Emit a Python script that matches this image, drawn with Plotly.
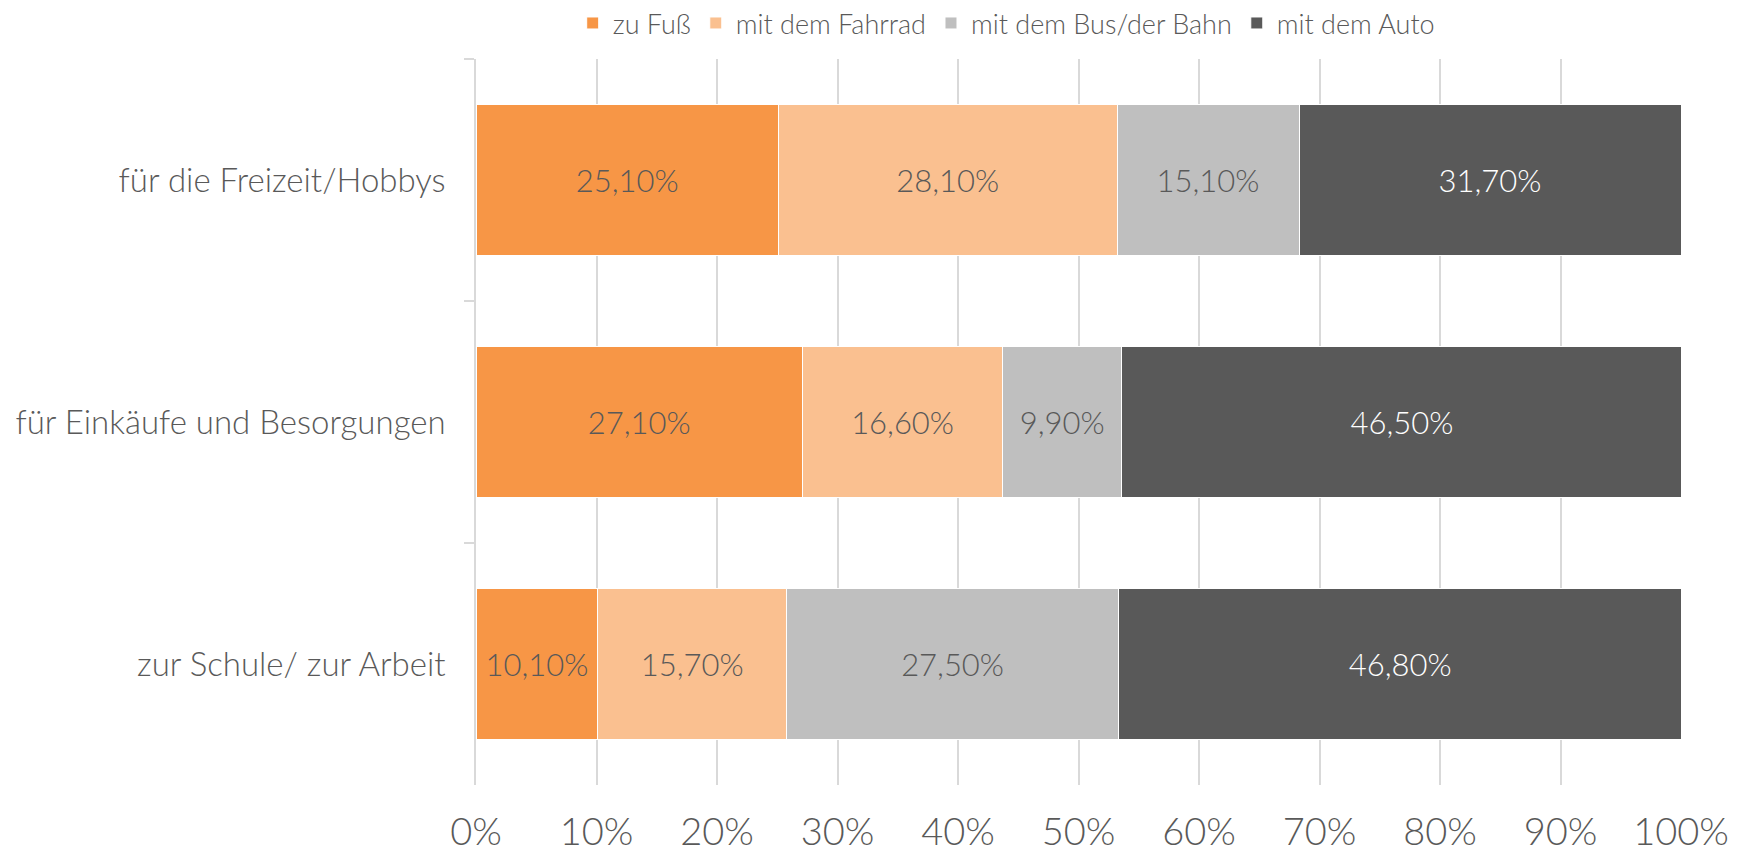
import plotly.graph_objects as go

categories = ["für die Freizeit/Hobbys", "für Einkäufe und Besorgungen", "zur Schule/ zur Arbeit"]
series_names = ["zu Fuß", "mit dem Fahrrad", "mit dem Bus/der Bahn", "mit dem Auto"]
zu_fuss = [25.1, 27.1, 10.1]
fahrrad = [28.1, 16.6, 15.7]
bus_bahn = [15.1, 9.9, 27.5]
auto = [31.7, 46.5, 46.8]
x_ticks = [0, 10, 20, 30, 40, 50, 60, 70, 80, 90, 100]
x_tick_labels = [f"{v}%" for v in x_ticks]

colors = ["#F79646", "#FAC090", "#BFBFBF", "#595959"]
label_colors = ["#595959", "#595959", "#595959", "#FFFFFF"]
FONT = "Lato"
W = 300

fig = go.Figure()
for name, vals, c, lc in zip(series_names, [zu_fuss, fahrrad, bus_bahn, auto], colors, label_colors):
    fig.add_trace(go.Bar(
        y=categories, x=vals, name=name, orientation="h",
        marker=dict(color=c, line=dict(color="white", width=1)),
        text=[f"{v:.2f}%".replace(".", ",") for v in vals],
        textposition="inside", insidetextanchor="middle",
        textfont=dict(family=FONT, size=31, color=lc, weight=W),
        constraintext="none",
    ))

# page body has an 8px margin: shrink the figure so it fits the 1739x853 window
fig.update_layout(
    barmode="stack",
    bargap=0.376,
    width=1731, height=845,
    margin=dict(l=468, r=58, t=51, b=68, autoexpand=False),
    plot_bgcolor="white", paper_bgcolor="white",
    font=dict(family=FONT, color="#595959", weight=W),
    legend=dict(
        orientation="h", x=0.44, xanchor="center", y=1.049, yanchor="middle",
        font=dict(family=FONT, size=27, color="#595959", weight=W),
        traceorder="normal", itemwidth=30,
    ),
    xaxis=dict(
        range=[0, 100], tickvals=x_ticks, ticktext=x_tick_labels,
        showgrid=True, gridcolor="#D9D9D9", gridwidth=1.5, zeroline=False,
        showline=False, tickfont=dict(family=FONT, size=38, color="#595959", weight=W),
        ticks="", ticklabelstandoff=21, automargin=False,
    ),
    yaxis=dict(
        categoryorder="array", categoryarray=categories, autorange="reversed",
        showline=True, linecolor="#D9D9D9", linewidth=1.5,
        ticks="outside", ticklen=10, tickcolor="#D9D9D9", tickwidth=1.5,
        tickson="boundaries", showgrid=False, automargin=False,
        tickfont=dict(family=FONT, size=33, color="#595959", weight=W),
        ticklabelstandoff=22,
    ),
)

fig.write_html("out.html")
